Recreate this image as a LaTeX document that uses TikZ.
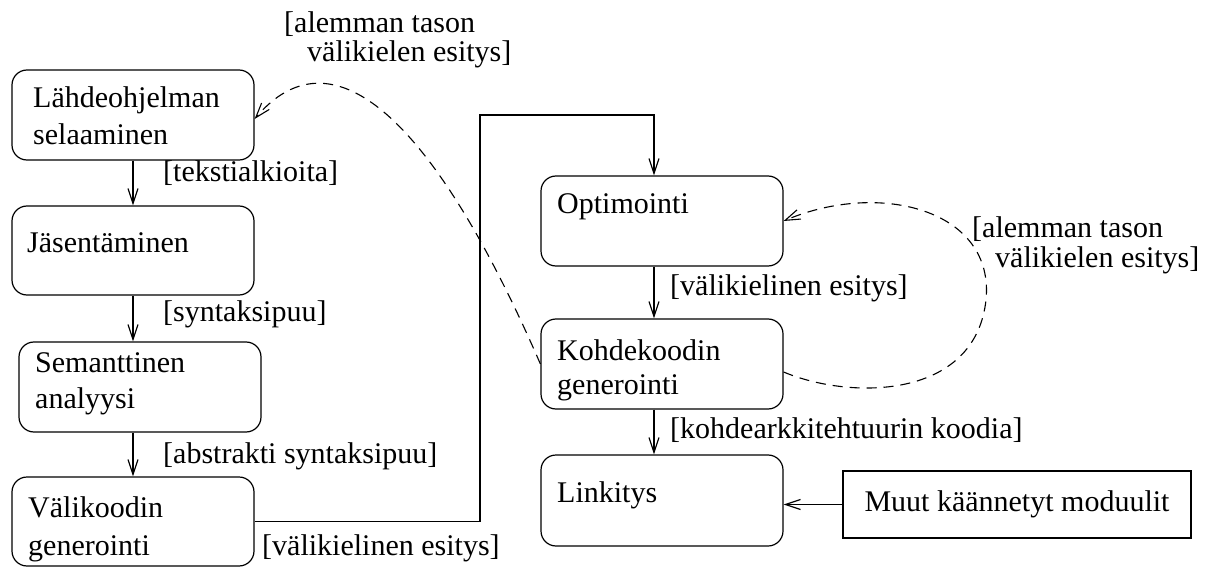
\documentclass[tikz,border=0pt]{standalone}
\usepackage{fontspec}
\setmainfont{Liberation Serif}
\usetikzlibrary{arrows.meta}
\begin{document}
\begin{tikzpicture}[x=1pt,y=-1pt,
  every node/.style={font=\fontsize{30}{36}\selectfont},
  stage/.style={draw, rounded corners=15pt, line width=1.2pt, inner sep=0pt,
                minimum width=242pt, minimum height=90pt},
  ext/.style={draw, line width=1.2pt, inner sep=0pt,
              minimum width=348pt, minimum height=67pt},
  txt/.style={anchor=base west, inner sep=0pt},
  flow/.style={line width=1.2pt,
               -{Straight Barb[length=15pt,width=10pt,line width=1.2pt]}},
  back/.style={line width=1.1pt, dash pattern=on 10pt off 7pt,
               -{Straight Barb[length=15pt,width=10pt,line width=1.1pt]}}
]
\useasboundingbox (0,0) rectangle (1208,567);

% compiler stages
\node[stage] (b1) at (133,115) {};
\node[stage, minimum height=89pt] (b2) at (133,250.5) {};
\node[stage] (b3) at (140,387) {};
\node[stage, minimum height=89pt] (b4) at (133,521.5) {};
\node[stage] (b5) at (662,221) {};
\node[stage] (b6) at (662,364) {};
\node[stage, minimum height=91pt] (b7) at (662,500.5) {};
\node[ext] (m) at (1017,504.5) {Muut käännetyt moduulit};

% stage names
\node[txt] (t1a) at (33,108) {Lähdeohjelman};
\node[txt] (t1b) at (33,145) {selaaminen};
\node[txt] (t2)  at (27,252) {Jäsentäminen};
\node[txt] (t3a) at (35,372) {Semanttinen};
\node[txt] (t3b) at (35,408) {analyysi};
\node[txt] (t4a) at (28,517) {Välikoodin};
\node[txt] (t4b) at (28,555) {generointi};
\node[txt] (t5)  at (557,213) {Optimointi};
\node[txt] (t6a) at (557,360) {Kohdekoodin};
\node[txt] (t6b) at (557,394) {generointi};
\node[txt] (t7)  at (557,502) {Linkitys};

% data passed between stages
\node[txt] (l1) at (163,182) {[tekstialkioita]};
\node[txt] (l2) at (163,321) {[syntaksipuu]};
\node[txt] (l3) at (163,463) {[abstrakti syntaksipuu]};
\node[txt] (l4) at (262,555) {[välikielinen esitys]};
\node[txt] (l5) at (670,295) {[välikielinen esitys]};
\node[txt] (l6) at (670,438) {[kohdearkkitehtuurin koodia]};
\node[txt] (l7a) at (284,33) {[alemman tason};
\node[txt] (l7b) at (307,62) {välikielen esitys]};
\node[txt] (l8a) at (972,237) {[alemman tason};
\node[txt] (l8b) at (995,267) {välikielen esitys]};

% routing points
\coordinate (k) at (654,0);
\coordinate (c1) at (480,115);

% main flow
\draw[flow] (b1.south) -- (b2.north);
\draw[flow] (b2.south) -- (b2.south |- b3.north);
\draw[flow] (b4.north |- b3.south) -- (b4.north);
\draw[flow] (b4.east) -| (c1) -| (b5.north -| k);
\draw[flow] (b5.south -| k) -- (b6.north -| k);
\draw[flow] (b6.south -| k) -- (b7.north -| k);
\draw[flow] (m.west) -- (b7.east |- m.west);

% feedback of lower-level intermediate code
\draw[back] (b6.west) .. controls (430,110) and (330,30) .. ([yshift=-4pt]b1.east);
\coordinate (r) at (986,300);
\draw[back] ([yshift=-8pt]b6.east) .. controls (850,400) and (975,400) .. (r)
            .. controls (995,210) and (880,180) .. (b5.east);
\end{tikzpicture}
\end{document}
